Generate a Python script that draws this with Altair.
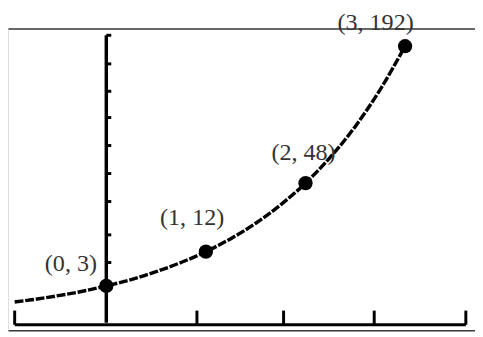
import altair as alt
import pandas as pd

# ---- data ----
pt_x = [0, 1, 2, 3]
pt_y = [3, 12, 48, 192]
pt_labels = ["(0, 3)", "(1, 12)", "(2, 48)", "(3, 192)"]

curve_x = [-0.92, -0.75, -0.5, -0.25, 0, 0.25, 0.5, 0.75, 1, 1.25, 1.5, 1.75, 2, 2.25, 2.5, 2.75, 3]
curve_y = [0.84, 1.06, 1.5, 2.1, 3, 4.2, 6, 8.5, 12, 17, 24, 34, 48, 68, 96, 136, 192]

# calculator axes (in data units)
x_axis_from, x_axis_to, x_axis_level = -0.92, 3.61, -0.0546
x_tick_pos = [-0.92, 0.91, 1.78, 2.69, 3.61]
x_tick_top = 0.233
y_axis_from, y_axis_to = -0.019, 207.6
y_tick_pos = [8.5, 18.6, 36, 55, 78, 105, 134, 168, 207.6]
y_tick_len = 0.05

curve_df = pd.DataFrame({"x": curve_x, "y": curve_y})
pts_df = pd.DataFrame({"x": pt_x, "y": pt_y, "label": pt_labels})
xaxis_df = pd.DataFrame({"x": [x_axis_from], "x2": [x_axis_to], "y": [x_axis_level]})
xtick_df = pd.DataFrame({"x": x_tick_pos, "y": [x_axis_level] * len(x_tick_pos),
                         "y2": [x_tick_top] * len(x_tick_pos)})
yaxis_df = pd.DataFrame({"x": [0], "y": [y_axis_from], "y2": [y_axis_to]})
ytick_df = pd.DataFrame({"x": [0] * len(y_tick_pos), "x2": [y_tick_len] * len(y_tick_pos),
                         "y": y_tick_pos})

xscale = alt.Scale(domain=[-0.987, 3.702], nice=False, zero=False)
yscale = alt.Scale(type="sqrt", domain=[-0.262, 217.7], nice=False, zero=False)

frame = dict(domain=True, ticks=False, labels=False, grid=False, title=None,
             domainColor="#3a3a3a", domainWidth=1.6)
no_axis = None

curve = alt.Chart(curve_df).mark_line(
    color="black", strokeWidth=3.5, interpolate="monotone", strokeDash=[9, 1.8]
).encode(
    x=alt.X("x:Q", scale=xscale, axis=alt.Axis(orient="bottom", **frame)),
    y=alt.Y("y:Q", scale=yscale, axis=alt.Axis(orient="left", **frame)),
)

xaxis = alt.Chart(xaxis_df).mark_rule(color="black", strokeWidth=3).encode(
    x=alt.X("x:Q", scale=xscale, axis=alt.Axis(orient="top", **frame)),
    x2="x2:Q",
    y=alt.Y("y:Q", scale=yscale, axis=no_axis),
)

xticks = alt.Chart(xtick_df).mark_rule(color="black", strokeWidth=3).encode(
    x=alt.X("x:Q", scale=xscale, axis=no_axis),
    y=alt.Y("y:Q", scale=yscale, axis=no_axis),
    y2="y2:Q",
)

yaxis = alt.Chart(yaxis_df).mark_rule(color="black", strokeWidth=3.5).encode(
    x=alt.X("x:Q", scale=xscale, axis=no_axis),
    y=alt.Y("y:Q", scale=yscale, axis=no_axis),
    y2="y2:Q",
)

yticks = alt.Chart(ytick_df).mark_rule(color="black", strokeWidth=3).encode(
    x=alt.X("x:Q", scale=xscale, axis=no_axis),
    x2="x2:Q",
    y=alt.Y("y:Q", scale=yscale, axis=no_axis),
)

points = alt.Chart(pts_df).mark_circle(color="black", opacity=1, size=210).encode(
    x=alt.X("x:Q", scale=xscale, axis=no_axis),
    y=alt.Y("y:Q", scale=yscale, axis=no_axis),
)

offsets = [(-36, -22), (-14, -34), (-2, -31), (-30, -23)]
label_layers = []
for lab, (dx, dy) in zip(pt_labels, offsets):
    label_layers.append(
        alt.Chart(pts_df).transform_filter(alt.datum.label == lab).mark_text(
            font="Liberation Serif", fontSize=24.5, color="#333",
            dx=dx, dy=dy, align="center", baseline="middle"
        ).encode(
            x=alt.X("x:Q", scale=xscale, axis=no_axis),
            y=alt.Y("y:Q", scale=yscale, axis=no_axis),
            text="label:N",
        )
    )

chart = alt.layer(curve, xaxis, xticks, yaxis, yticks, points, *label_layers).resolve_axis(
    x="independent"
).properties(
    width=475, height=307,
    padding={"left": 0, "top": 18, "right": 0, "bottom": 0},
    autosize=alt.AutoSizeParams(type="none"),
).configure_view(stroke=None).configure(background="white")

chart.save("out.html", embed_options={"renderer": "svg", "actions": False})
